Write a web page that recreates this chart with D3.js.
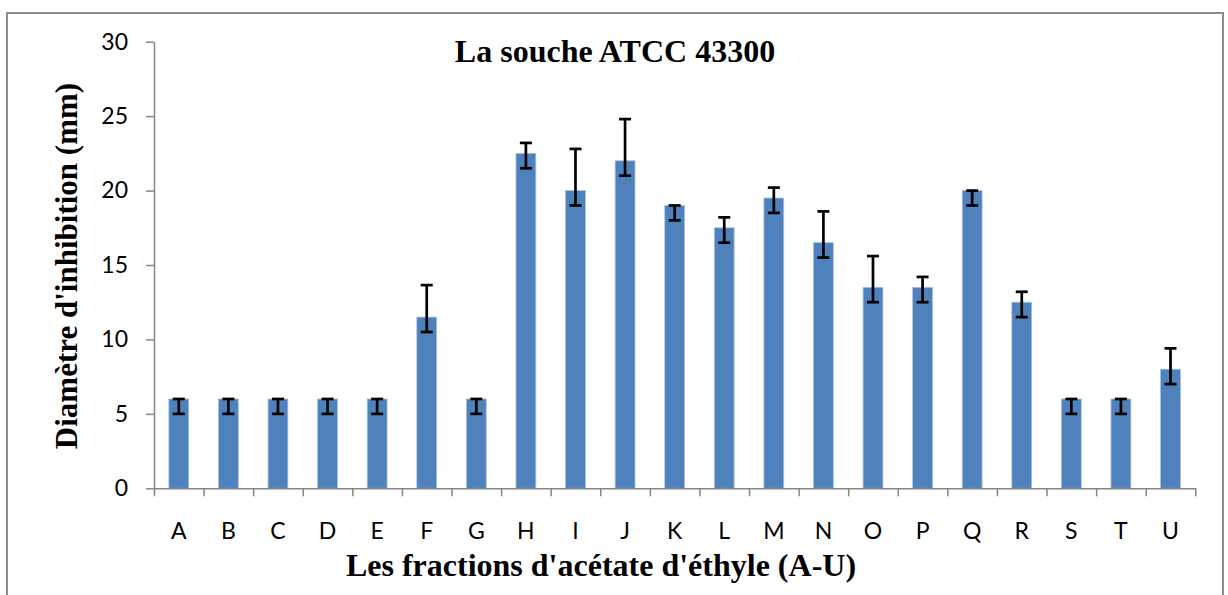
<!DOCTYPE html>
<html>
<head>
<meta charset="utf-8">
<script src="https://cdn.jsdelivr.net/npm/d3@7"></script>
<style>
  body { margin: 0; background: #fff; }
  svg { display: block; }
</style>
</head>
<body>
<div id="chart"></div>
<script>
// --- Data ---
const categories = ["A","B","C","D","E","F","G","H","I","J","K","L","M","N","O","P","Q","R","S","T","U"];
const values     = [6, 6, 6, 6, 6, 11.5, 6, 22.5, 20, 22, 19, 17.5, 19.5, 16.5, 13.5, 13.5, 20, 12.5, 6, 6, 8];
const errPlus    = [0, 0, 0, 0, 0, 2.15, 0, 0.7, 2.8, 2.8, 0, 0.7, 0.7, 2.1, 2.1, 0.7, 0, 0.7, 0, 0, 1.4];
const errMinus   = [1, 1, 1, 1, 1, 1, 1, 1, 1, 1, 1, 1, 1, 1, 1, 1, 1, 1, 1, 1, 1];
const yTicks     = [0, 5, 10, 15, 20, 25, 30];

const titleText = "La souche ATCC 43300";
const xTitle = "Les fractions d'acétate d'éthyle (A-U)";
const yTitle = "Diamètre d'inhibition (mm)";

const data = categories.map((c, i) => ({
    cat: c, value: values[i], hi: values[i] + errPlus[i], lo: values[i] - errMinus[i]
}));

// --- Sizes ---
const W = 1228, H = 595;
const plotLeft = 154, plotRight = 1195.3, plotTop = 41.7, plotBottom = 488.3;
const axisColor = "#868686";
const serif = "'Liberation Serif', 'Times New Roman', serif";
const sans = "Lato, 'Open Sans', sans-serif";

const svg = d3.select("#chart")
    .append("svg")
        .attr("width", W)
        .attr("height", H);

// outer frame
svg.append("rect")
    .attr("x", 7).attr("y", 13)
    .attr("width", 1216).attr("height", 600)
    .attr("fill", "none")
    .attr("stroke", "#8c8c8c")
    .attr("stroke-width", 2);

// --- Scales ---
const x = d3.scaleBand()
    .domain(categories)
    .range([plotLeft, plotRight])
    .paddingInner(0.6)
    .paddingOuter(0.3);

const xEdges = d3.scaleLinear()
    .domain([0, categories.length])
    .range([plotLeft, plotRight]);

const y = d3.scaleLinear()
    .domain([0, 30])
    .range([plotBottom, plotTop]);

// --- Bars ---
svg.append("g")
    .selectAll("rect")
    .data(data)
    .join("rect")
        .attr("x", d => x(d.cat))
        .attr("y", d => y(d.value))
        .attr("width", x.bandwidth())
        .attr("height", d => y(0) - y(d.value))
        .attr("fill", "#4f81bd")
        .attr("stroke", "#a9c0df")
        .attr("stroke-width", 0.8);

// --- Error bars ---
const capW = 12;
const err = svg.append("g")
    .attr("stroke", "#000")
    .attr("stroke-width", 2.7)
    .selectAll("g")
    .data(data)
    .join("g")
        .attr("transform", d => `translate(${x(d.cat) + x.bandwidth() / 2},0)`);

err.append("line")
    .attr("x1", 0).attr("x2", 0)
    .attr("y1", d => y(d.hi))
    .attr("y2", d => y(d.lo));
err.append("line")
    .attr("x1", -capW / 2).attr("x2", capW / 2)
    .attr("y1", d => y(d.hi)).attr("y2", d => y(d.hi));
err.append("line")
    .attr("x1", -capW / 2).attr("x2", capW / 2)
    .attr("y1", d => y(d.lo)).attr("y2", d => y(d.lo));

// --- Y axis ---
const yAxis = svg.append("g")
    .attr("transform", `translate(${plotLeft},0)`)
    .call(d3.axisLeft(y).tickValues(yTicks).tickSize(8).tickPadding(18).tickSizeOuter(0));
yAxis.select(".domain").attr("stroke", axisColor).attr("stroke-width", 1.5);
yAxis.selectAll(".tick line").attr("stroke", axisColor).attr("stroke-width", 1.5);
yAxis.selectAll(".tick text")
    .style("font-family", sans)
    .style("font-size", "23px")
    .attr("fill", "#000");

// --- X axis: boundary ticks ---
const xTickAxis = svg.append("g")
    .attr("transform", `translate(0,${plotBottom})`)
    .call(d3.axisBottom(xEdges).tickValues(d3.range(categories.length + 1)).tickFormat("").tickSize(8).tickSizeOuter(0));
xTickAxis.select(".domain").attr("stroke", axisColor).attr("stroke-width", 1.5);
xTickAxis.selectAll(".tick line").attr("stroke", axisColor).attr("stroke-width", 1.5);

// --- X axis: category labels ---
const xLabelAxis = svg.append("g")
    .attr("transform", `translate(0,${plotBottom})`)
    .call(d3.axisBottom(x).tickSize(0).tickPadding(0));
xLabelAxis.select(".domain").remove();
xLabelAxis.selectAll(".tick text")
    .attr("dy", null)
    .attr("y", 539 - plotBottom)
    .style("font-family", sans)
    .style("font-size", "23px")
    .attr("fill", "#000");

// --- Titles ---
svg.append("text")
    .text(titleText)
    .attr("x", 615)
    .attr("y", 62)
    .attr("text-anchor", "middle")
    .style("font-family", serif)
    .style("font-weight", "bold")
    .style("font-size", "32px");

svg.append("text")
    .text(xTitle)
    .attr("x", 601)
    .attr("y", 576)
    .attr("text-anchor", "middle")
    .style("font-family", serif)
    .style("font-weight", "bold")
    .style("font-size", "32px");

svg.append("text")
    .text(yTitle)
    .attr("transform", "translate(77,266) rotate(-90)")
    .attr("text-anchor", "middle")
    .style("font-family", serif)
    .style("font-weight", "bold")
    .style("font-size", "31px");
</script>
</body>
</html>
